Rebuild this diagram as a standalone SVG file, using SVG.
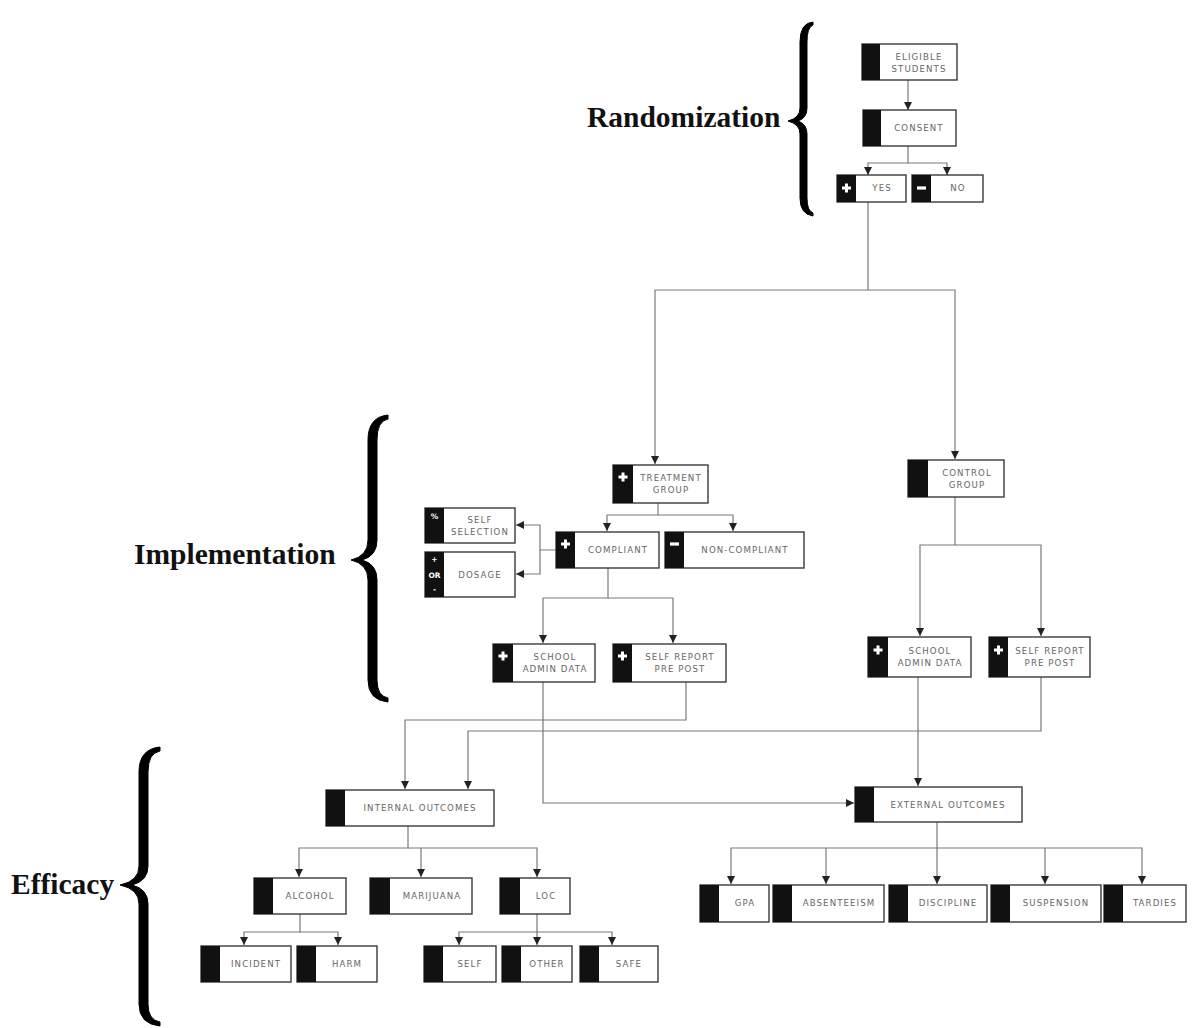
<svg xmlns="http://www.w3.org/2000/svg" width="1192" height="1028" viewBox="0 0 1192 1028">
<style>
.box{fill:#fff;stroke:#3a3a3a;stroke-width:1.4}
.tab{fill:#111}
.t{font-family:"DejaVu Sans",sans-serif;font-size:8.6px;fill:#666;text-anchor:middle;letter-spacing:1.1px}
.ic{fill:#fff}
.ict{font-family:"DejaVu Sans",sans-serif;font-size:7.5px;font-weight:bold;fill:#fff;text-anchor:middle}
.conn{fill:none;stroke:#7a7a7a;stroke-width:1.2}
.brace{fill:#000;stroke:#000;stroke-width:1;stroke-linejoin:round}
.lbl{font-family:"Liberation Serif",serif;font-weight:bold;fill:#111;font-size:29.5px}
</style>
<defs>
<marker id="arr" viewBox="0 0 10 10" refX="10" refY="5" markerWidth="8" markerHeight="8" orient="auto" markerUnits="userSpaceOnUse">
<path d="M0,0 L10,5 L0,10 z" fill="#222"/>
</marker>
<g id="plus"><rect x="-4.5" y="-1.5" width="9" height="3" class="ic"/><rect x="-1.5" y="-4.5" width="3" height="9" class="ic"/></g>
<g id="minus"><rect x="-4.5" y="-1.6" width="9" height="3.2" class="ic"/></g>
</defs>
<rect width="1192" height="1028" fill="#fff"/>

<!-- labels and braces -->
<g id="randomization">
<text class="lbl" x="587" y="127">Randomization</text>
<path class="brace" d="M813,22 Q800,23 800,42 L800,108 Q800,118 788,121 Q800,124 800,134 L800,198 Q800,214 813,216 L813,213 Q807,211 807,198 L807,134 Q807,124 798,121 Q807,118 807,108 L807,42 Q807,27 813,25 Z"/>
</g>
<g id="implementation">
<text class="lbl" x="134" y="564">Implementation</text>
<path class="brace" d="M388,415 Q368,417 368,440 L368,540 Q368,556 351,560 Q368,564 368,580 L368,680 Q368,700 388,702 L388,698 Q377,696 377,680 L377,580 Q377,564 362,560 Q377,556 377,540 L377,440 Q377,421 388,419 Z"/>
</g>
<g id="efficacy">
<text class="lbl" x="11" y="894">Efficacy</text>
<path class="brace" d="M160,747 Q139,749 139,772 L139,866 Q139,881 120,885 Q139,889 139,904 L139,1004 Q139,1024 160,1026 L160,1022 Q148,1020 148,1004 L148,904 Q148,889 132,885 Q148,881 148,866 L148,772 Q148,753 160,751 Z"/>
</g>

<!-- connectors -->
<g id="connectors">
<path class="conn" d="M908,80 V110" marker-end="url(#arr)"/>
<path class="conn" d="M908,146 V163 H868 V175" marker-end="url(#arr)"/>
<path class="conn" d="M908,163 H947 V175" marker-end="url(#arr)"/>
<path class="conn" d="M868,202 V290 H655 V464" marker-end="url(#arr)"/>
<path class="conn" d="M868,290 H955 V459" marker-end="url(#arr)"/>
<path class="conn" d="M658,503 V515 H607 V531" marker-end="url(#arr)"/>
<path class="conn" d="M658,515 H733 V531" marker-end="url(#arr)"/>
<path class="conn" d="M556,550 H540 V525 H516" marker-end="url(#arr)"/>
<path class="conn" d="M540,550 V574 H516" marker-end="url(#arr)"/>
<path class="conn" d="M608,568 V598 H543 V643" marker-end="url(#arr)"/>
<path class="conn" d="M608,598 H673 V643" marker-end="url(#arr)"/>
<path class="conn" d="M955,497 V545 H920 V636" marker-end="url(#arr)"/>
<path class="conn" d="M955,545 H1041 V636" marker-end="url(#arr)"/>
<path class="conn" d="M686,682 V720 H405 V789" marker-end="url(#arr)"/>
<path class="conn" d="M1041,677 V731 H468 V789" marker-end="url(#arr)"/>
<path class="conn" d="M543,682 V803 H854" marker-end="url(#arr)"/>
<path class="conn" d="M918,677 V786" marker-end="url(#arr)"/>
<path class="conn" d="M408,826 V848 H299 V877" marker-end="url(#arr)"/>
<path class="conn" d="M408,848 H537 V877" marker-end="url(#arr)"/>
<path class="conn" d="M421,848 V877" marker-end="url(#arr)"/>
<path class="conn" d="M300,914 V932 H244 V945" marker-end="url(#arr)"/>
<path class="conn" d="M300,932 H338 V945" marker-end="url(#arr)"/>
<path class="conn" d="M537,914 V932 H459 V945" marker-end="url(#arr)"/>
<path class="conn" d="M537,932 H612 V945" marker-end="url(#arr)"/>
<path class="conn" d="M537,932 V945" marker-end="url(#arr)"/>
<path class="conn" d="M937,822 V848 H731 V884" marker-end="url(#arr)"/>
<path class="conn" d="M937,848 H1142 V884" marker-end="url(#arr)"/>
<path class="conn" d="M826,848 V884" marker-end="url(#arr)"/>
<path class="conn" d="M937,848 V884" marker-end="url(#arr)"/>
<path class="conn" d="M1045,848 V884" marker-end="url(#arr)"/>
</g>

<!-- nodes -->
<g id="eligible"><rect class="box" x="862" y="44" width="95" height="36"/><rect class="tab" x="862" y="44" width="18" height="36"/><text class="t" x="919" y="60">ELIGIBLE</text><text class="t" x="919" y="72">STUDENTS</text></g>
<g id="consent"><rect class="box" x="863" y="110" width="93" height="36"/><rect class="tab" x="863" y="110" width="18" height="36"/><text class="t" x="919" y="131">CONSENT</text></g>
<g id="yes"><rect class="box" x="837" y="175" width="69" height="27"/><rect class="tab" x="837" y="175" width="19" height="27"/><use href="#plus" x="846.5" y="188"/><text class="t" x="882" y="191">YES</text></g>
<g id="no"><rect class="box" x="912" y="175" width="71" height="27"/><rect class="tab" x="912" y="175" width="19" height="27"/><use href="#minus" x="921.5" y="188"/><text class="t" x="958" y="191">NO</text></g>

<g id="treatment"><rect class="box" x="613" y="465" width="95" height="38"/><rect class="tab" x="613" y="465" width="20" height="38"/><use href="#plus" x="623" y="477"/><text class="t" x="671" y="481">TREATMENT</text><text class="t" x="671" y="493">GROUP</text></g>
<g id="control"><rect class="box" x="908" y="460" width="96" height="37"/><rect class="tab" x="908" y="460" width="20" height="37"/><text class="t" x="967" y="476">CONTROL</text><text class="t" x="967" y="488">GROUP</text></g>

<g id="compliant"><rect class="box" x="556" y="532" width="103" height="36"/><rect class="tab" x="556" y="532" width="19" height="36"/><use href="#plus" x="565.5" y="544"/><text class="t" x="618" y="553">COMPLIANT</text></g>
<g id="noncompliant"><rect class="box" x="665" y="532" width="139" height="36"/><rect class="tab" x="665" y="532" width="19" height="36"/><use href="#minus" x="674.5" y="544"/><text class="t" x="745" y="553">NON-COMPLIANT</text></g>
<g id="selfselection"><rect class="box" x="425" y="508" width="90" height="35"/><rect class="tab" x="425" y="508" width="19" height="35"/><text class="ict" x="434.5" y="519">%</text><text class="t" x="480" y="523">SELF</text><text class="t" x="480" y="535">SELECTION</text></g>
<g id="dosage"><rect class="box" x="425" y="552" width="90" height="45"/><rect class="tab" x="425" y="552" width="19" height="45"/><text class="ict" x="434.5" y="562">+</text><text class="ict" x="434.5" y="578">OR</text><text class="ict" x="434.5" y="592">-</text><text class="t" x="480" y="578">DOSAGE</text></g>

<g id="schooladmin1"><rect class="box" x="493" y="644" width="102" height="38"/><rect class="tab" x="493" y="644" width="20" height="38"/><use href="#plus" x="503" y="656"/><text class="t" x="555" y="660">SCHOOL</text><text class="t" x="555" y="672">ADMIN DATA</text></g>
<g id="selfreport1"><rect class="box" x="613" y="644" width="113" height="38"/><rect class="tab" x="613" y="644" width="19" height="38"/><use href="#plus" x="622.5" y="656"/><text class="t" x="680" y="660">SELF REPORT</text><text class="t" x="680" y="672">PRE POST</text></g>
<g id="schooladmin2"><rect class="box" x="868" y="637" width="103" height="40"/><rect class="tab" x="868" y="637" width="20" height="40"/><use href="#plus" x="878" y="650"/><text class="t" x="930" y="654">SCHOOL</text><text class="t" x="930" y="666">ADMIN DATA</text></g>
<g id="selfreport2"><rect class="box" x="989" y="637" width="101" height="40"/><rect class="tab" x="989" y="637" width="19" height="40"/><use href="#plus" x="998.5" y="650"/><text class="t" x="1050" y="654">SELF REPORT</text><text class="t" x="1050" y="666">PRE POST</text></g>

<g id="internal"><rect class="box" x="326" y="790" width="168" height="36"/><rect class="tab" x="326" y="790" width="19" height="36"/><text class="t" x="420" y="811">INTERNAL OUTCOMES</text></g>
<g id="external"><rect class="box" x="855" y="787" width="167" height="35"/><rect class="tab" x="855" y="787" width="19" height="35"/><text class="t" x="948" y="808">EXTERNAL OUTCOMES</text></g>

<g id="alcohol"><rect class="box" x="254" y="878" width="92" height="36"/><rect class="tab" x="254" y="878" width="19" height="36"/><text class="t" x="310" y="899">ALCOHOL</text></g>
<g id="marijuana"><rect class="box" x="370" y="878" width="102" height="36"/><rect class="tab" x="370" y="878" width="20" height="36"/><text class="t" x="432" y="899">MARIJUANA</text></g>
<g id="loc"><rect class="box" x="500" y="878" width="70" height="36"/><rect class="tab" x="500" y="878" width="20" height="36"/><text class="t" x="546" y="899">LOC</text></g>

<g id="incident"><rect class="box" x="201" y="946" width="90" height="36"/><rect class="tab" x="201" y="946" width="19" height="36"/><text class="t" x="256" y="967">INCIDENT</text></g>
<g id="harm"><rect class="box" x="297" y="946" width="80" height="36"/><rect class="tab" x="297" y="946" width="19" height="36"/><text class="t" x="347" y="967">HARM</text></g>
<g id="self"><rect class="box" x="424" y="946" width="72" height="36"/><rect class="tab" x="424" y="946" width="19" height="36"/><text class="t" x="470" y="967">SELF</text></g>
<g id="other"><rect class="box" x="502" y="946" width="70" height="36"/><rect class="tab" x="502" y="946" width="19" height="36"/><text class="t" x="547" y="967">OTHER</text></g>
<g id="safe"><rect class="box" x="580" y="946" width="78" height="36"/><rect class="tab" x="580" y="946" width="19" height="36"/><text class="t" x="629" y="967">SAFE</text></g>

<g id="gpa"><rect class="box" x="700" y="885" width="69" height="37"/><rect class="tab" x="700" y="885" width="19" height="37"/><text class="t" x="745" y="906">GPA</text></g>
<g id="absenteeism"><rect class="box" x="773" y="885" width="111" height="37"/><rect class="tab" x="773" y="885" width="19" height="37"/><text class="t" x="839" y="906">ABSENTEEISM</text></g>
<g id="discipline"><rect class="box" x="889" y="885" width="98" height="37"/><rect class="tab" x="889" y="885" width="19" height="37"/><text class="t" x="948" y="906">DISCIPLINE</text></g>
<g id="suspension"><rect class="box" x="991" y="885" width="110" height="37"/><rect class="tab" x="991" y="885" width="19" height="37"/><text class="t" x="1056" y="906">SUSPENSION</text></g>
<g id="tardies"><rect class="box" x="1104" y="885" width="82" height="37"/><rect class="tab" x="1104" y="885" width="19" height="37"/><text class="t" x="1155" y="906">TARDIES</text></g>
</svg>
